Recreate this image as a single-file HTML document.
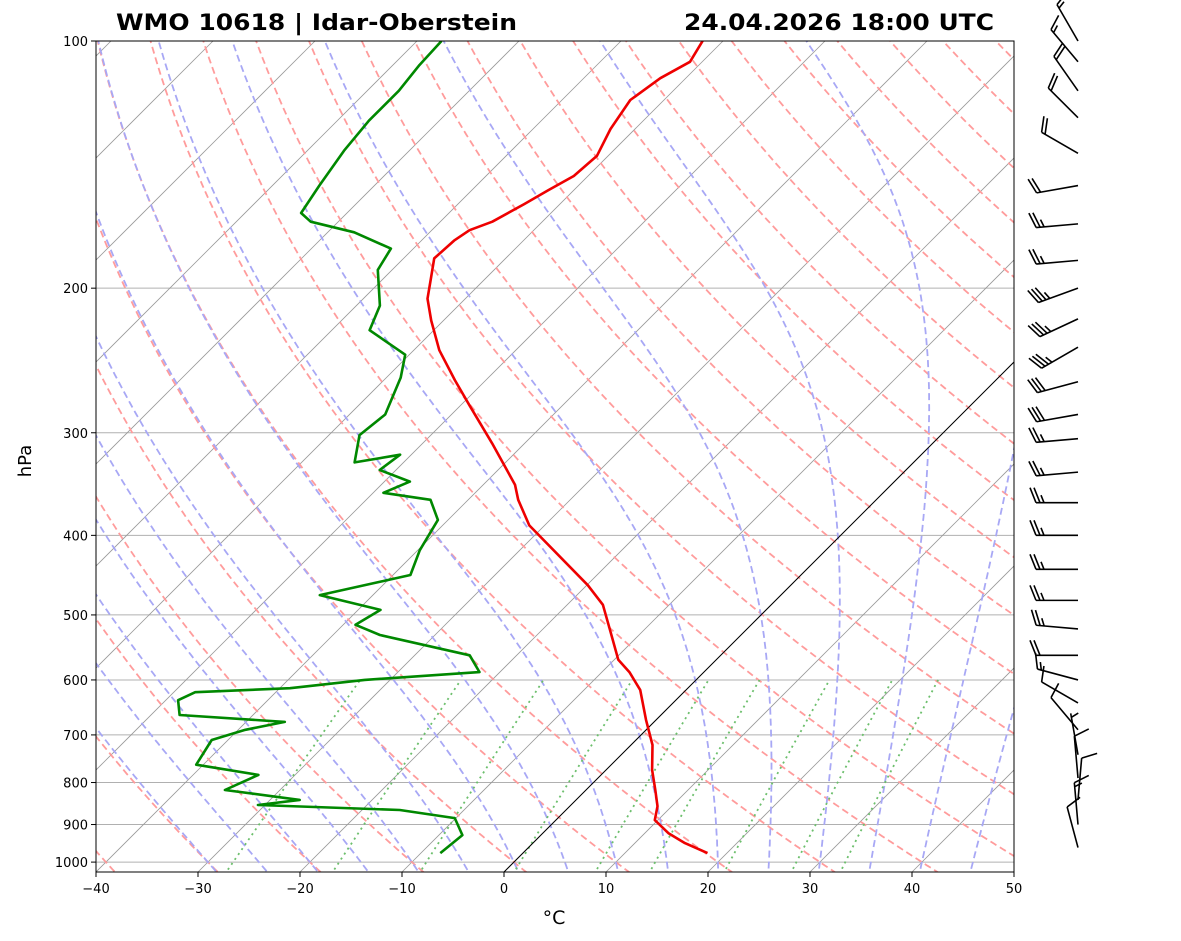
<!DOCTYPE html>
<html><head><meta charset="utf-8"><style>
body{margin:0;background:#fff;}
svg{display:block;font-family:"DejaVu Sans","Liberation Sans",sans-serif;}
</style></head><body>
<svg id="chart" width="1181" height="941" viewBox="0 0 1181 941" xmlns="http://www.w3.org/2000/svg">
<defs><clipPath id="pc"><rect x="96" y="41" width="918" height="831"/></clipPath></defs>
<rect width="1181" height="941" fill="#fff"/>
<g id="bg" clip-path="url(#pc)"></g>
<g id="prof" clip-path="url(#pc)"></g>
<rect x="96" y="41" width="918" height="831" fill="none" stroke="#000" stroke-width="1"/>
<g id="axes"></g>
<g id="barbs"></g>
<text x="116" y="30" font-size="22" font-weight="bold" textLength="401" lengthAdjust="spacingAndGlyphs">WMO 10618 | Idar-Oberstein</text>
<text x="684" y="30" font-size="22" font-weight="bold" textLength="310" lengthAdjust="spacingAndGlyphs">24.04.2026 18:00 UTC</text>
<text x="31" y="461" font-size="18" text-anchor="middle" transform="rotate(-90 31 461)">hPa</text>
<text x="554" y="924" font-size="19" text-anchor="middle">°C</text>
</svg>
<script>
const tempP=[975,948,922,889,855,817,772,720,671,617,587,567,522,486,460,389,362,347,309,278,259,238,219,206,195,184,175,170,166,158,152,146,138,128,118,111,106,100];
const tempT=[18.1,14.9,12.3,9.7,8.6,6.8,4.5,2.1,-1.0,-4.5,-7.3,-9.6,-13.3,-16.5,-19.9,-31.5,-35.1,-36.9,-43.2,-49.1,-53.0,-57.5,-61.2,-63.7,-65.3,-67.0,-66.8,-66.3,-64.9,-63.5,-62.5,-61.4,-61.1,-62.4,-63.3,-62.5,-61.2,-62.0];
const dewP=[975,927,884,864,852,840,817,783,761,710,690,675,662,635,621,614,600,587,560,529,514,493,473,447,417,383,362,355,344,333,319,326,302,285,257,241,225,210,190,179,171,166,162,150,136,125,115,107,100];
const dewT=[-8.1,-7.7,-10.1,-16.3,-30.7,-27.1,-35.4,-33.6,-40.7,-41.6,-39.3,-36.2,-47.2,-48.8,-47.9,-39.0,-32.5,-22.0,-24.6,-35.4,-38.8,-37.8,-45.2,-38.3,-39.8,-41.0,-43.7,-49.0,-47.5,-51.6,-51.1,-54.8,-57.0,-56.5,-58.6,-60.4,-66.3,-67.7,-71.4,-72.2,-77.4,-82.7,-84.5,-85.4,-86.4,-86.9,-86.9,-87.4,-87.6];
const windP=[100,106,115,124,137,150,167,185,200,218,236,260,285,305,335,365,400,440,480,520,560,600,640,690,740,790,840,900,960];
const windS=[15,15,20,20,20,20,25,25,35,35,35,30,30,25,25,25,25,25,25,25,20,15,10,10,5,10,10,15,10];
const windD=[330,320,325,315,300,260,265,265,250,245,240,255,260,265,265,270,270,270,270,275,270,285,300,320,350,355,5,355,345];
const xTicks=[-40,-30,-20,-10,0,10,20,30,40,50];
const yTicks=[100,200,300,400,500,600,700,800,900,1000];
const mixW=[0.0004,0.001,0.002,0.004,0.007,0.01,0.016,0.024,0.032];

const NS='http://www.w3.org/2000/svg';
function yOf(p){return 41+356.6*Math.log(p/100);}
function xOf(T,p){const y=yOf(p);return 504+10.2*T+(872-y);}
function mk(tag,attrs,parent){const e=document.createElementNS(NS,tag);for(const k in attrs)e.setAttribute(k,attrs[k]);parent.appendChild(e);return e;}
const bg=document.getElementById('bg'),prof=document.getElementById('prof'),axes=document.getElementById('axes'),barbs=document.getElementById('barbs');
function pline(pts,st,parent,name){const e=mk('polyline',Object.assign({points:pts.map(q=>q[0].toFixed(1)+','+q[1].toFixed(1)).join(' '),fill:'none'},st),parent);

return e;}
const pLev=[];for(let p=1050;p>=100;p-=5)pLev.push(p);
yTicks.forEach(p=>{const l=mk('line',{x1:96,x2:1014,y1:yOf(p),y2:yOf(p),stroke:'#b0b0b0','stroke-width':1},bg);

});
for(let T=-130;T<=50;T+=10){pline([[xOf(T,1050),yOf(1050)],[xOf(T,100),yOf(100)]],{stroke:'#999','stroke-width':0.8},bg,'isotherm');}
for(let t=-40;t<=200;t+=10){const th=t+273.15;pline(pLev.map(p=>[xOf(th*Math.pow(p/1000,0.2857)-273.15,p),yOf(p)]),{stroke:'#ff9c9c','stroke-width':1.8,'stroke-dasharray':'7,4'},bg,'dry-adiabat');}
function es(Tc){return 6.112*Math.exp(17.67*Tc/(Tc+243.5));}
function moist(t0){const Rd=287.04,Cp=1005.7,Lv=2.501e6,eps=0.622;let T=t0+273.15;const out=[];
 let Tb=T;for(let p=1000;p<1050;p+=1){const rs=eps*es(Tb-273.15)/(p-es(Tb-273.15));const d=(Rd*Tb+Lv*rs)/(p*(Cp+Lv*Lv*rs*eps/(Rd*Tb*Tb)));Tb+=d;}
 out.push([1050,Tb-273.15]);
 for(let p=1000;p>=100;p-=1){if(p%5===0)out.push([p,T-273.15]);const rs=eps*es(T-273.15)/(p-es(T-273.15));const d=(Rd*T+Lv*rs)/(p*(Cp+Lv*Lv*rs*eps/(Rd*T*T)));T-=d;}
 return out;}
for(let t=-30;t<=45;t+=5){pline(moist(t).map(q=>[xOf(q[1],q[0]),yOf(q[0])]),{stroke:'#a8a8f5','stroke-width':1.8,'stroke-dasharray':'7,4'},bg,'moist-adiabat');}
mixW.forEach(w=>{const pts=[];for(let p=1050;p>=600;p-=10){const e=p*w/(0.622+w);const l=Math.log(e/6.112);const Td=243.5*l/(17.67-l);pts.push([xOf(Td,p),yOf(p)]);}
pline(pts,{stroke:'#6cbf6c','stroke-width':1.8,'stroke-dasharray':'2,4'},bg,'mixing-ratio-line');});
pline([[xOf(0,1050),yOf(1050)],[xOf(0,100),yOf(100)]],{stroke:'#000','stroke-width':1},bg,'zero-isotherm');
pline(tempP.map((p,i)=>[xOf(tempT[i],p),yOf(p)]),{stroke:'#e00','stroke-width':2.6,'stroke-linejoin':'round'},prof,'temperature-line');
pline(dewP.map((p,i)=>[xOf(dewT[i],p),yOf(p)]),{stroke:'#080','stroke-width':2.6,'stroke-linejoin':'round'},prof,'dewpoint-line');
xTicks.forEach(T=>{const x=96+(T+40)*10.2;mk('line',{x1:x,x2:x,y1:872,y2:877,stroke:'#000'},axes);
const t=mk('text',{x:x,y:893,'font-size':13,'text-anchor':'middle'},axes);t.textContent=(T<0?'\u2212'+(-T):T);

});
yTicks.forEach(p=>{const y=yOf(p);mk('line',{x1:91,x2:96,y1:y,y2:y,stroke:'#000'},axes);
const t=mk('text',{x:88,y:y+5,'font-size':13,'text-anchor':'end'},axes);t.textContent=p;

});
windP.forEach((p,i)=>{const y=yOf(p),bx=1078;const a=windD[i]*Math.PI/180;
const dx=Math.sin(a),dy=-Math.cos(a);
const L=42,tx=bx+dx*L,ty=y+dy*L;const g=mk('g',{stroke:'#000','stroke-width':1.6,fill:'none'},barbs);


mk('line',{x1:bx,y1:y,x2:tx,y2:ty},g);
const px=-dy,py=dx;
let s=windS[i],pos=0;const fl=15;
while(s>=10){const sx=tx-dx*pos,sy=ty-dy*pos;mk('line',{x1:sx,y1:sy,x2:sx+dx*fl*0.4+px*fl,y2:sy+dy*fl*0.4+py*fl},g);s-=10;pos+=4;}
if(s>=5){if(pos===0)pos=4;const sx=tx-dx*pos,sy=ty-dy*pos;mk('line',{x1:sx,y1:sy,x2:sx+dx*fl*0.2+px*fl*0.5,y2:sy+dy*fl*0.2+py*fl*0.5},g);}
});
</script>
</body></html>
